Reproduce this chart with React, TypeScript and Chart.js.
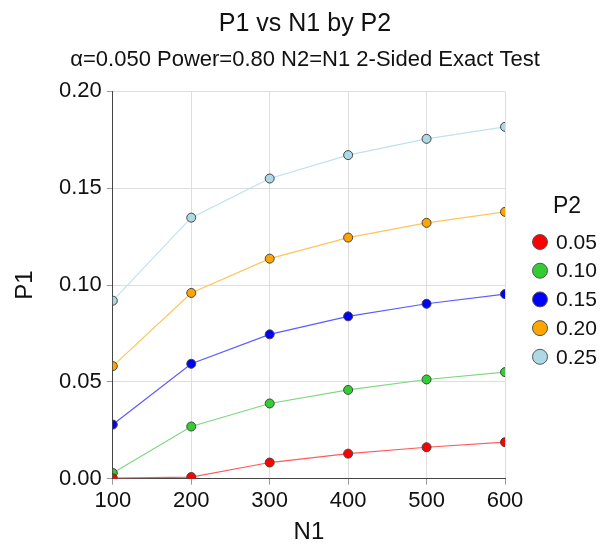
import React, { useEffect, useRef } from "react";
import { Chart, registerables } from "chart.js";

Chart.register(...registerables);

const chartTitle = "P1 vs N1 by P2";
const chartSubtitle = "α=0.050 Power=0.80 N2=N1 2-Sided Exact Test";
const xAxisTitle = "N1";
const yAxisTitle = "P1";
const legendTitle = "P2";
const n1Values = [100, 200, 300, 400, 500, 600];
const p2Labels = ["0.05", "0.10", "0.15", "0.20", "0.25"];
const p1_p2_005 = [0.0002, 0.0008, 0.0083, 0.0129, 0.0162, 0.0188];
const p1_p2_010 = [0.0029, 0.0269, 0.0388, 0.0458, 0.0512, 0.055];
const p1_p2_015 = [0.0279, 0.0593, 0.0745, 0.0838, 0.0903, 0.0953];
const p1_p2_020 = [0.0581, 0.0959, 0.1136, 0.1245, 0.1321, 0.1378];
const p1_p2_025 = [0.0919, 0.1348, 0.155, 0.1671, 0.1755, 0.1817];
const seriesValues = [p1_p2_005, p1_p2_010, p1_p2_015, p1_p2_020, p1_p2_025];
const pointColors = ["#ff0000", "#33cc33", "#0000ff", "#ffa500", "#add8e6"];
const lineColors = ["#ff5c5c", "#7ed87e", "#5c5cff", "#ffc45a", "#bfe2ec"];
const yTicks = [0, 0.05, 0.1, 0.15, 0.2];

const FONT = "'Liberation Sans', Arial, sans-serif";

const sideLegend = {
  id: "sideLegend",
  afterDraw(chart: any) {
    const ctx = chart.ctx;
    const area = chart.chartArea;
    const left = area.right + 28;
    ctx.save();
    ctx.fillStyle = "#111";
    ctx.textBaseline = "middle";
    ctx.textAlign = "center";
    ctx.font = `23px ${FONT}`;
    ctx.fillText(legendTitle, left + 34, 207);
    ctx.textAlign = "left";
    ctx.font = `21px ${FONT}`;
    chart.data.datasets.forEach((d: any, i: number) => {
      const y = 242 + i * 28.7;
      ctx.beginPath();
      ctx.arc(left + 7, y, 7.5, 0, Math.PI * 2);
      ctx.fillStyle = d.pointBackgroundColor;
      ctx.fill();
      ctx.lineWidth = 1;
      ctx.strokeStyle = "#555";
      ctx.stroke();
      ctx.fillStyle = "#111";
      ctx.fillText(d.label, left + 23, y + 1);
    });
    ctx.restore();
  },
};

export default function App() {
  const ref = useRef<HTMLCanvasElement | null>(null);
  useEffect(() => {
    if (!ref.current) return;
    const chart = new Chart(ref.current, {
      type: "line",
      data: {
        datasets: seriesValues.map((vals, i) => ({
          label: p2Labels[i],
          data: vals.map((v, j) => ({ x: n1Values[j], y: v })),
          borderColor: lineColors[i],
          backgroundColor: pointColors[i],
          pointBackgroundColor: pointColors[i],
          pointBorderColor: "#444444",
          pointBorderWidth: 1,
          pointRadius: 4.5,
          borderWidth: 1.2,
          tension: 0,
        })),
      },
      plugins: [sideLegend],
      options: {
        animation: false,
        responsive: false,
        layout: { padding: { left: 0, right: 0, top: 0, bottom: 0 } },
        plugins: {
          title: {
            display: true,
            text: chartTitle,
            color: "#111",
            font: { family: FONT, size: 25, weight: "normal" },
            padding: { top: 9, bottom: 8 },
          },
          subtitle: {
            display: true,
            text: chartSubtitle,
            color: "#111",
            font: { family: FONT, size: 22, weight: "normal" },
            padding: { top: 0, bottom: 18 },
          },
          legend: { display: false },
          tooltip: { enabled: false },
        },
        scales: {
          x: {
            type: "linear",
            min: 100,
            max: 600,
            ticks: {
              stepSize: 100,
              color: "#111",
              font: { family: FONT, size: 22 },
              padding: 3,
            },
            grid: { color: "#dedede", tickLength: 6, tickColor: "#999" },
            border: { color: "#444", width: 1 },
            title: {
              display: true,
              text: xAxisTitle,
              color: "#111",
              font: { family: FONT, size: 24, lineHeight: 1 },
              padding: { top: 3, bottom: 3 },
            },
          },
          y: {
            type: "linear",
            min: 0,
            max: 0.2,
            afterBuildTicks: (s: any) => {
              s.ticks = yTicks.map((v) => ({ value: v }));
            },
            ticks: {
              color: "#111",
              font: { family: FONT, size: 22 },
              callback: (v: any) => Number(v).toFixed(2),
              padding: 5,
            },
            grid: { color: "#dedede", tickLength: 6, tickColor: "#999" },
            border: { color: "#444", width: 1 },
            title: {
              display: true,
              text: yAxisTitle,
              color: "#111",
              font: { family: FONT, size: 24, lineHeight: 1 },
              padding: { top: 13, bottom: 17 },
            },
          },
          legendSpace: {
            type: "linear",
            position: "right",
            display: true,
            min: 0,
            max: 1,
            ticks: { display: false },
            grid: { display: false, drawTicks: false },
            border: { display: false },
            afterFit: (s: any) => {
              s.width = 105;
            },
          },
        },
      },
    });
    return () => chart.destroy();
  }, []);
  return (
    <div style={{ position: "fixed", left: 0, top: 0, width: 610, height: 547, background: "#fff" }}>
      <canvas ref={ref} width={610} height={547} style={{ width: 610, height: 547 }} />
    </div>
  );
}
